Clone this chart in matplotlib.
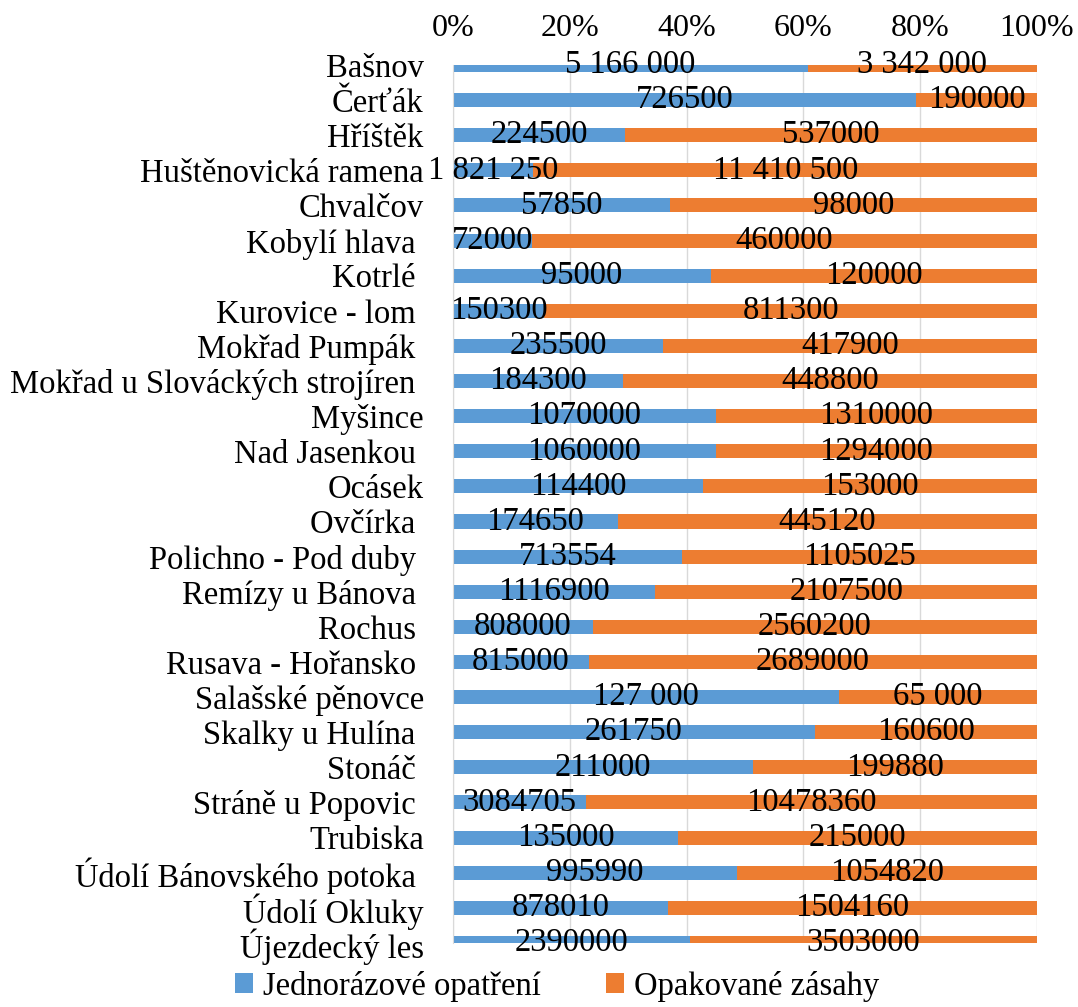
import numpy as np
import matplotlib.pyplot as plt
from matplotlib.ticker import PercentFormatter

plt.rcParams["font.family"] = ["Liberation Serif", "DejaVu Serif"]

categories = ["Bašnov", "Čerťák", "Hříštěk", "Huštěnovická ramena", "Chvalčov",
              "Kobylí hlava ", "Kotrlé ", "Kurovice - lom ", "Mokřad Pumpák ",
              "Mokřad u Slováckých strojíren ", "Myšince", "Nad Jasenkou ", "Ocásek",
              "Ovčírka ", "Polichno - Pod duby ", "Remízy u Bánova ", "Rochus ",
              "Rusava - Hořansko ", "Salašské pěnovce", "Skalky u Hulína ", "Stonáč ",
              "Stráně u Popovic ", "Trubiska", "Údolí Bánovského potoka ", "Údolí Okluky",
              "Újezdecký les"]
jednorazove = [5166000, 726500, 224500, 1821250, 57850, 72000, 95000, 150300, 235500,
               184300, 1070000, 1060000, 114400, 174650, 713554, 1116900, 808000,
               815000, 127000, 261750, 211000, 3084705, 135000, 995990, 878010, 2390000]
opakovane = [3342000, 190000, 537000, 11410500, 98000, 460000, 120000, 811300, 417900,
             448800, 1310000, 1294000, 153000, 445120, 1105025, 2107500, 2560200,
             2689000, 65000, 160600, 199880, 10478360, 215000, 1054820, 1504160, 3503000]
# labels as shown in the chart (some have thousands spaces)
labels_j = ["5 166 000", "726500", "224500", "1 821 250", "57850", "72000", "95000",
            "150300", "235500", "184300", "1070000", "1060000", "114400", "174650",
            "713554", "1116900", "808000", "815000", "127 000", "261750", "211000",
            "3084705", "135000", "995990", "878010", "2390000"]
labels_o = ["3 342 000", "190000", "537000", "11 410 500", "98000", "460000", "120000",
            "811300", "417900", "448800", "1310000", "1294000", "153000", "445120",
            "1105025", "2107500", "2560200", "2689000", "65 000", "160600", "199880",
            "10478360", "215000", "1054820", "1504160", "3503000"]

j = np.array(jednorazove, dtype=float)
o = np.array(opakovane, dtype=float)
tot = j + o
pj = j / tot * 100
po = o / tot * 100

blue = "#5b9bd5"
orange = "#ed7d31"

fig = plt.figure(figsize=(10.78, 10.07), dpi=100)
# plot area runs from the first bar centre to the last one (bars get clipped, like the original)
ax = fig.add_axes([0.4202, 0.0636, 0.5418, 0.8719])

y = np.arange(len(categories))
b1 = ax.barh(y, pj, height=0.4, color=blue, label="Jednorázové opatření")
b2 = ax.barh(y, po, left=pj, height=0.4, color=orange, label="Opakované zásahy")

fs = 23.5
for i in range(len(categories)):
    ax.text(pj[i] / 2, y[i], labels_j[i], ha="center", va="center", fontsize=fs, clip_on=False)
    ax.text(pj[i] + po[i] / 2, y[i], labels_o[i], ha="center", va="center", fontsize=fs, clip_on=False)

ax.set_xlim(0, 100)
ax.set_ylim(len(categories) - 1, 0)
ax.set_yticks(y)
ax.set_yticklabels(categories, fontsize=fs)
ax.set_xticks([0, 20, 40, 60, 80, 100])
ax.xaxis.set_major_formatter(PercentFormatter(decimals=0))
ax.xaxis.tick_top()
ax.tick_params(axis="x", labelsize=23, length=0, pad=16)
ax.tick_params(axis="y", length=0, pad=21)
ax.grid(axis="x", color="#d9d9d9", linewidth=1)
ax.set_axisbelow(True)
for s in ["top", "right", "bottom"]:
    ax.spines[s].set_visible(False)
ax.spines["left"].set_color("#d9d9d9")

fig.legend(handles=[b1, b2], loc="lower center", bbox_to_anchor=(0.517, -0.024), ncol=2,
           frameon=False, fontsize=fs, handlelength=0.55, handleheight=0.55,
           handletextpad=0.3, columnspacing=2.0)

fig.savefig("out.png", dpi=100)
